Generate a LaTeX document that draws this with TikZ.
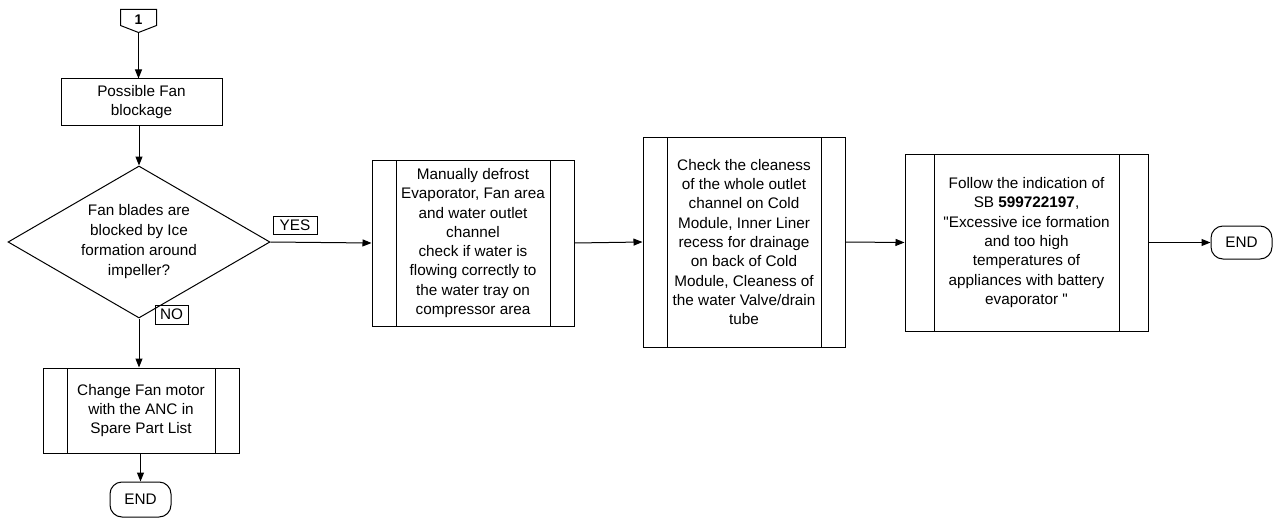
\documentclass[tikz,border=0pt]{standalone}
\usepackage{fontspec}
\setmainfont{Liberation Sans}[Ligatures=TeXOff]
\usetikzlibrary{shapes.geometric,arrows.meta}

\begin{document}
\begin{tikzpicture}[x=1pt,y=-1pt,line width=1pt,%
% common options for blocks:
block/.style = {draw, rectangle, align=center, inner sep=0,
            font=\fontsize{15.3}{19.3}\selectfont},
% process blocks with the two inner bars:
proc/.style = {block, path picture={
            \draw ([xshift=#1pt]path picture bounding box.north west) -- ([xshift=#1pt]path picture bounding box.south west);
            \draw ([xshift=-#1pt]path picture bounding box.north east) -- ([xshift=-#1pt]path picture bounding box.south east);}},
proc/.default = 24,
% the decision:
choice/.style = {draw, diamond, aspect=1.72, align=center, inner sep=0,
            font=\fontsize{15.3}{20}\selectfont},
% END blocks and the YES/NO tags:
term/.style = {draw, rounded corners=12pt, minimum width=61pt, inner sep=0,
            font=\fontsize{15.3}{17}\selectfont},
tag/.style = {draw, inner sep=0, font=\fontsize{15.3}{17}\selectfont},
arr/.style = {-{Triangle[length=9pt,width=7pt]}}]
\useasboundingbox (0,0) rectangle (1278,519);
\node[inner sep=0, minimum width=35pt, minimum height=22pt,
      font=\fontsize{14}{16}\bfseries] (c1) at (138.5,21) {\raisebox{2.5pt}{1}};
\draw (c1.north west) -- (c1.north east) -- ([yshift=7pt]c1.south east)
      -- (c1.south) -- ([yshift=7pt]c1.south west) -- cycle;
\node[block, minimum width=161pt, minimum height=46pt] (fan) at (141.5,102) {Possible Fan\\blockage};
\node[choice, minimum width=262pt, minimum height=152pt] (ice) at (139,242)
      {Fan blades are\\blocked by Ice\\formation around\\impeller?};
\node[tag, minimum width=44pt, minimum height=18pt] (yes) at (295,225) {YES};
\node[tag, minimum width=33pt, minimum height=19pt] (no) at (171.5,314.5) {NO};
\node[proc, minimum width=196pt, minimum height=85pt] (motor) at (141,410.5)
      {Change Fan motor\\with the ANC in\\Spare Part List};
\node[term, minimum height=35pt] (end1) at (140.5,499.5) {END};
\node[proc, minimum width=202pt, minimum height=166pt] (defrost) at (473,243)
      {Manually defrost\\Evaporator, Fan area\\and water outlet\\channel\\check if water is\\flowing correctly to\\the water tray on\\compressor area};
\node[proc, minimum width=202pt, minimum height=210pt] (clean) at (744,242)
      {Check the cleaness\\of the whole outlet\\channel on Cold\\Module, Inner Liner\\recess for drainage\\on back of Cold\\Module, Cleaness of\\the water Valve/drain\\tube};
\node[proc=29, minimum width=243pt, minimum height=177pt] (sb) at (1026.5,242.5)
      {Follow the indication of\\SB \textbf{599722197},\\"Excessive ice formation\\and too high\\temperatures of\\appliances with battery\\evaporator "};
\node[term, minimum height=33pt] (end2) at (1241.5,242.5) {END};
\draw[arr] (c1.south) to (c1.south |- fan.north);
\draw[arr] (fan.south -| ice.north) to (ice.north);
\draw[arr] (ice.east) to (defrost.west);
\draw[arr] (ice.south) to (ice.south |- motor.north);
\draw[arr] (motor.south -| end1.north) to (end1.north);
\draw[arr] (defrost.east) to (clean.west);
\draw[arr] (clean.east) to (sb.west);
\draw[arr] (sb.east) to (end2.west);
\end{tikzpicture}
\end{document}
